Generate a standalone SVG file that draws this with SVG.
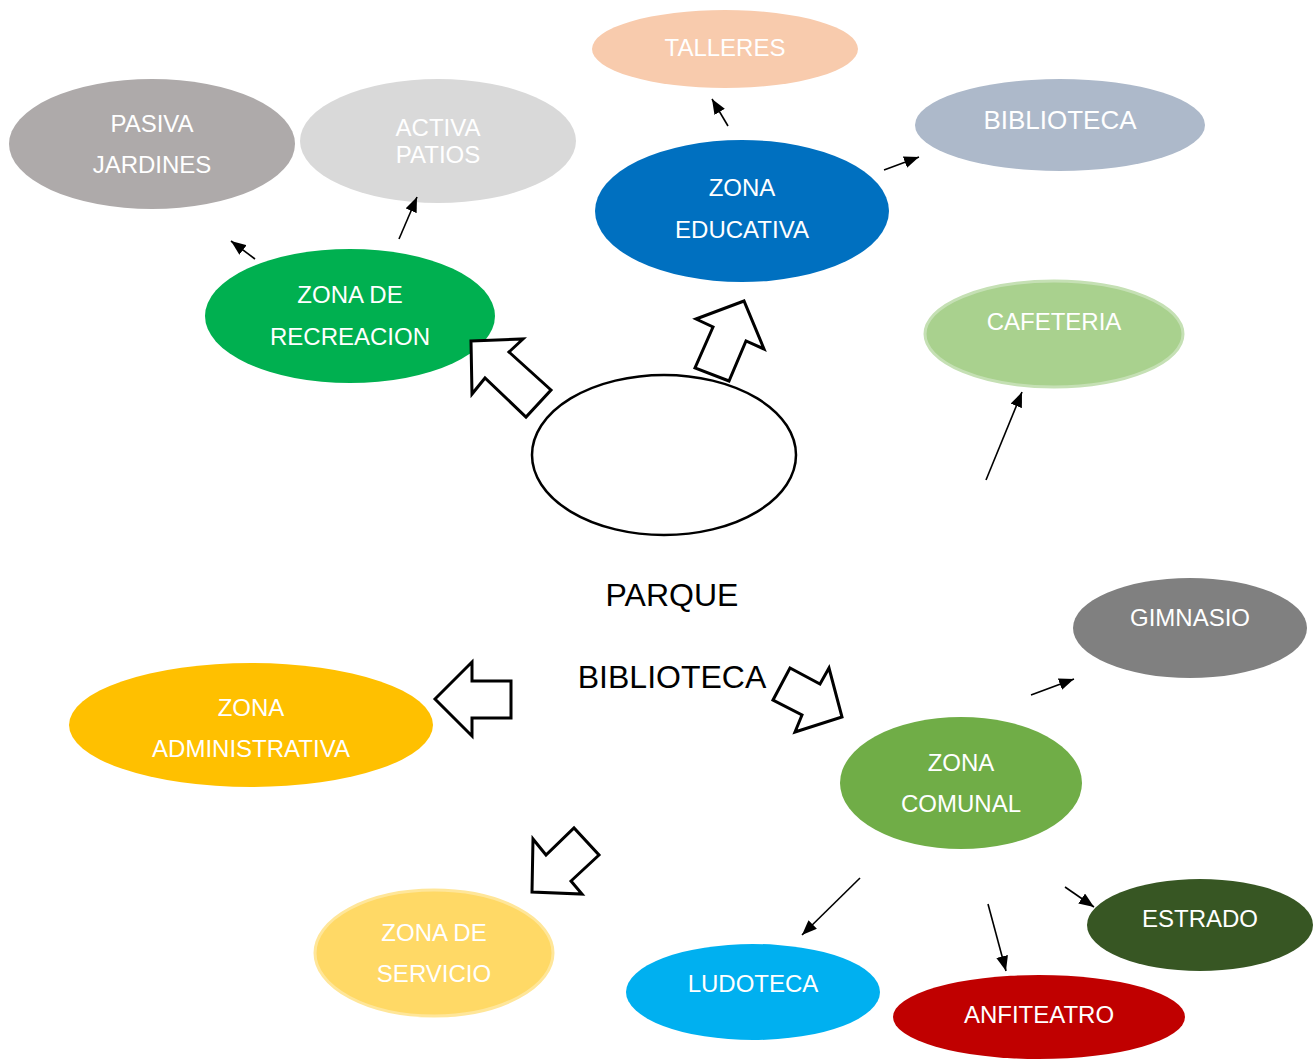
<svg xmlns="http://www.w3.org/2000/svg" width="1315" height="1061" viewBox="0 0 1315 1061">
<defs>
<marker id="ah" markerUnits="userSpaceOnUse" markerWidth="16" markerHeight="12" refX="15" refY="6" orient="auto">
<path d="M0,0 L15,6 L0,12 z" fill="#000"/>
</marker>
<style>
text{font-family:"Liberation Sans",Arial,sans-serif;font-size:24px;fill:#fff;text-anchor:middle}
.dark{fill:#000;font-size:32px}
.con line{stroke:#000;stroke-width:1.6;marker-end:url(#ah)}
.blk{fill:#fff;stroke:#000;stroke-width:3;stroke-linejoin:miter}
</style>
</defs>
<rect width="1315" height="1061" fill="#fff"/>
<g id="pasiva"><ellipse cx="152" cy="144" rx="143" ry="65" fill="#AEAAAA"/><text x="152" y="132">PASIVA</text><text x="152" y="173">JARDINES</text></g>
<g id="activa"><ellipse cx="438" cy="141" rx="138" ry="62" fill="#D9D9D9"/><text x="438" y="136">ACTIVA</text><text x="438" y="163">PATIOS</text></g>
<g id="talleres"><ellipse cx="725" cy="49" rx="133" ry="39" fill="#F8CBAD"/><text x="725" y="56">TALLERES</text></g>
<g id="biblioteca"><ellipse cx="1060" cy="125" rx="145" ry="46" fill="#ADB9CA"/><text x="1060" y="129" style="font-size:26px">BIBLIOTECA</text></g>
<g id="educativa"><ellipse cx="742" cy="211" rx="147" ry="71" fill="#0070C0"/><text x="742" y="196">ZONA</text><text x="742" y="238">EDUCATIVA</text></g>
<g id="recreacion"><ellipse cx="350" cy="316" rx="145" ry="67" fill="#00B050"/><text x="350" y="303">ZONA DE</text><text x="350" y="345">RECREACION</text></g>
<g id="cafeteria"><ellipse cx="1054" cy="334" rx="129" ry="53" fill="#A9D18E" stroke="#C5E0B4" stroke-width="3"/><text x="1054" y="330">CAFETERIA</text></g>
<g id="parque"><ellipse cx="664" cy="455" rx="132" ry="80" fill="#fff" stroke="#000" stroke-width="2.5"/><text class="dark" x="672" y="606">PARQUE</text><text class="dark" x="672" y="688">BIBLIOTECA</text></g>
<g id="gimnasio"><ellipse cx="1190" cy="628" rx="117" ry="50" fill="#808080"/><text x="1190" y="626">GIMNASIO</text></g>
<g id="administrativa"><ellipse cx="251" cy="725" rx="182" ry="62" fill="#FFC000"/><text x="251" y="716">ZONA</text><text x="251" y="757">ADMINISTRATIVA</text></g>
<g id="comunal"><ellipse cx="961" cy="783" rx="121" ry="66" fill="#70AD47"/><text x="961" y="771">ZONA</text><text x="961" y="812">COMUNAL</text></g>
<g id="estrado"><ellipse cx="1200" cy="925" rx="113" ry="46" fill="#375623"/><text x="1200" y="927">ESTRADO</text></g>
<g id="servicio"><ellipse cx="434" cy="953" rx="119" ry="63" fill="#FFD966" stroke="#FFE699" stroke-width="3"/><text x="434" y="941">ZONA DE</text><text x="434" y="982">SERVICIO</text></g>
<g id="ludoteca"><ellipse cx="753" cy="992" rx="127" ry="48" fill="#00B0F0"/><text x="753" y="992">LUDOTECA</text></g>
<g id="anfiteatro"><ellipse cx="1039" cy="1017" rx="146" ry="42" fill="#C00000"/><text x="1039" y="1023">ANFITEATRO</text></g>
<g id="connectors" class="con">
<polygon class="blk" points="471,341 523,339 509,352 551,390 526,417 485,378 472,394"/>
<polygon class="blk" points="696,319 744,301 764,349 746,341 729,381 695,368 713,327"/>
<polygon class="blk" points="435,699 472,662 472,681 511,681 511,718 472,718 472,736"/>
<polygon class="blk" points="773,700 790,668 820,684 829,668 842,717 795,732 802,715"/>
<polygon class="blk" points="533,839 546,855 574,828 599,855 571,881 582,894 532,892"/>
<line x1="255" y1="259" x2="231" y2="241"/>
<line x1="399" y1="239" x2="417" y2="197"/>
<line x1="728" y1="126" x2="712" y2="99"/>
<line x1="884" y1="170" x2="919" y2="157"/>
<line x1="986" y1="480" x2="1022" y2="392"/>
<line x1="1031" y1="695" x2="1074" y2="679"/>
<line x1="860" y1="878" x2="802" y2="935"/>
<line x1="988" y1="904" x2="1006" y2="971"/>
<line x1="1065" y1="887" x2="1094" y2="907"/>
</g>
</svg>
